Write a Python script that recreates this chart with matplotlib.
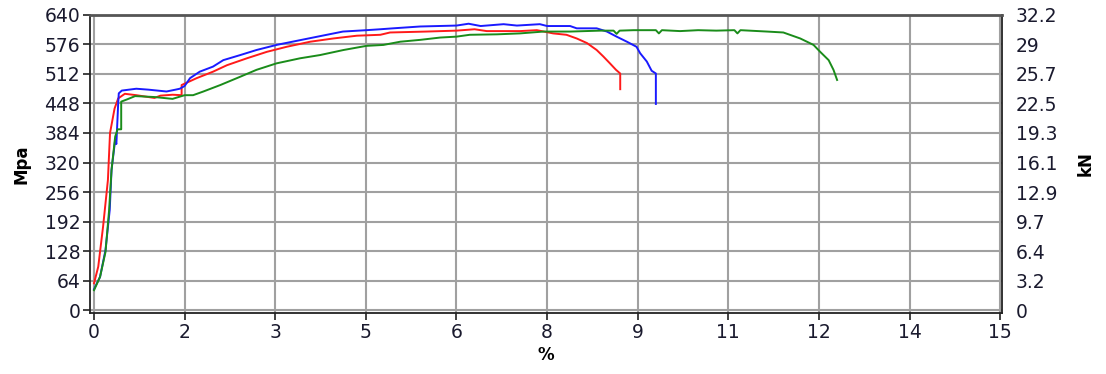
import numpy as np
import matplotlib.pyplot as plt

plt.rcParams['font.family'] = ['DejaVu Sans']

# strain (%) / stress (MPa)
red_x = [0.0, 0.07, 0.15, 0.23, 0.265, 0.34, 0.40, 0.51, 0.7, 1.0, 1.1, 1.3, 1.45, 1.45,
         1.70, 1.97, 2.2, 2.53, 2.86, 3.19, 3.58, 3.96, 4.35, 4.74, 4.9, 5.5, 6.0, 6.3,
         6.5, 7.05, 7.33, 7.6, 7.82, 7.99, 8.16, 8.32, 8.43, 8.54, 8.64, 8.71, 8.71]
red_y = [58, 94, 181, 282, 384, 437, 459, 469, 466, 460, 465, 467, 466, 488,
         503, 517, 531, 546, 560, 571, 582, 589, 595, 597, 602, 604, 606, 609,
         605, 605, 607, 600, 597, 589, 579, 564, 550, 535, 521, 513, 479]

blue_x = [0.0, 0.1, 0.19, 0.26, 0.29, 0.35, 0.37, 0.40, 0.41, 0.46, 0.7, 0.9, 1.2, 1.35,
          1.42, 1.50, 1.59, 1.75, 1.97, 2.14, 2.42, 2.69, 3.02, 3.36, 3.74, 4.12,
          4.51, 4.74, 4.95, 5.40, 6.0, 6.2, 6.4, 6.78, 7.0, 7.38, 7.5, 7.88, 7.99,
          8.32, 8.49, 8.65, 8.82, 8.98, 9.04, 9.15, 9.23, 9.30, 9.30]
blue_y = [45, 72, 130, 217, 304, 369, 360, 448, 470, 476, 480, 478, 474, 478,
          480, 486, 503, 517, 528, 542, 553, 564, 575, 584, 594, 604,
          607, 609, 611, 615, 617, 621, 616, 620, 617, 620, 616, 616, 611,
          611, 604, 593, 582, 571, 557, 539, 519, 513, 447]

green_x = [0.0, 0.1, 0.19, 0.25, 0.29, 0.35, 0.39, 0.45, 0.45, 0.55, 0.68, 1.0, 1.3, 1.5,
           1.64, 1.81, 2.09, 2.42, 2.69, 3.02, 3.41, 3.74, 4.13, 4.51, 4.79, 5.07,
           5.4, 5.73, 6.0, 6.22, 6.67, 7.05, 7.44, 7.88, 8.38, 8.6, 8.65, 8.7, 8.93,
           9.3, 9.35, 9.4, 9.7, 10.0, 10.3, 10.6, 10.65, 10.7, 11.14, 11.41, 11.69,
           11.91, 12.02, 12.16, 12.24, 12.3]
green_y = [43, 72, 126, 217, 304, 376, 392, 392, 452, 457, 464, 462, 458, 466,
           466, 474, 488, 506, 521, 535, 546, 553, 564, 573, 575, 582,
           586, 591, 593, 597, 598, 600, 604, 604, 606, 606, 599, 606, 607,
           607, 600, 607, 605, 607, 606, 607, 600, 607, 604, 602, 589,
           575, 560, 542, 521, 499]

x_ticks = np.arange(0, 15.01, 1.5)
x_labels = ['0', '2', '3', '5', '6', '8', '9', '11', '12', '14', '15']
y_ticks = np.arange(0, 641, 64)
kn_labels = ['0', '3.2', '6.4', '9.7', '12.9', '16.1', '19.3', '22.5', '25.7', '29', '32.2']

fig = plt.figure(figsize=(11.06, 3.74), dpi=100)
ax = fig.add_axes([0.0814, 0.163, 0.8246, 0.797])

ax.plot(red_x, red_y, color='#ff1a1a', linewidth=1.4)
ax.plot(blue_x, blue_y, color='#1a1aff', linewidth=1.4)
ax.plot(green_x, green_y, color='#1a8c1a', linewidth=1.4)

ax.set_xlim(-0.066, 15.03)
ax.set_ylim(-6.5, 640)
ax.set_xticks(x_ticks)
ax.set_xticklabels(x_labels)
ax.set_yticks(y_ticks)
ax.grid(True, color='#a0a0a0', linewidth=1.5)
ax.set_axisbelow(True)
ax.tick_params(labelsize=13.5, labelcolor='#1a1a2e', length=5, width=1.3,
               color='#333333', pad=2)

for side in ['left', 'bottom', 'right']:
    ax.spines[side].set_color('#222222')
    ax.spines[side].set_linewidth(1.3)
ax.spines['top'].set_color('#555555')
ax.spines['top'].set_linewidth(2)

ax.set_xlabel('%', fontsize=12, fontweight='bold', labelpad=3)
ax.set_ylabel('Mpa', fontsize=12, fontweight='bold', labelpad=10)

ax2 = ax.twinx()
ax2.set_ylim(ax.get_ylim())
ax2.set_yticks(y_ticks)
ax2.set_yticklabels(kn_labels)
ax2.tick_params(labelsize=13.5, labelcolor='#1a1a2e', length=0, pad=10)
ax2.set_ylabel('kN', fontsize=12, fontweight='bold', rotation=90, labelpad=14)
for s in ax2.spines.values():
    s.set_visible(False)

plt.savefig('out.png', dpi=100)
